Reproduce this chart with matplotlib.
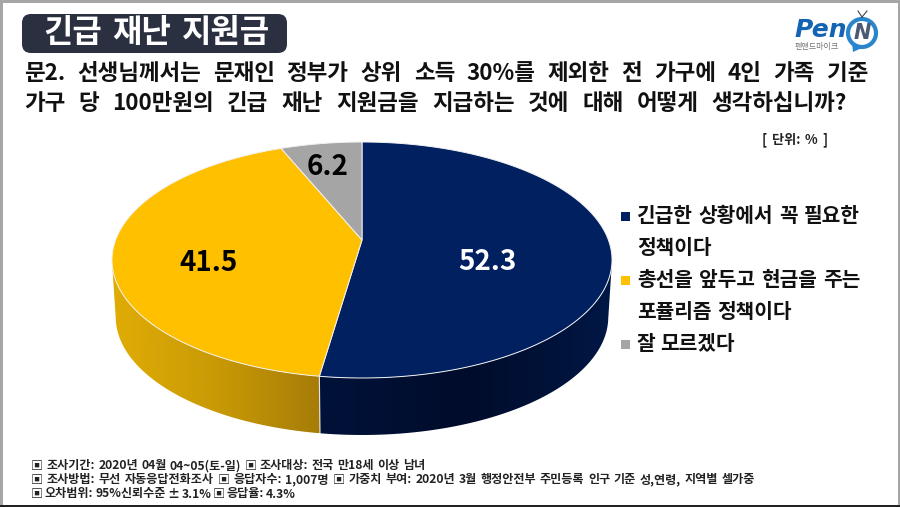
import numpy as np
import matplotlib
matplotlib.use('Agg')
import matplotlib.pyplot as plt
from matplotlib.patches import Polygon, Rectangle, FancyBboxPatch, Ellipse
from matplotlib.colors import LinearSegmentedColormap

plt.rcParams['font.family'] = ['Noto Sans CJK KR', 'DejaVu Sans']

# data
values = [52.3, 41.5, 6.2]
top_colors = ['#002060', '#ffc000', '#a5a5a5']
value_labels = ['52.3', '41.5', '6.2']
legend_lines = [['긴급한 상황에서 꼭 필요한', '정책이다'],
                ['총선을 앞두고 현금을 주는', '포퓰리즘 정책이다'],
                ['잘 모르겠다']]
legend_ends = [[860, 710], [860, 792], [735]]
title = '긴급 재난 지원금'
question = ['문2. 선생님께서는 문재인 정부가 상위 소득 30%를 제외한 전 가구에 4인 가족 기준',
            '가구 당 100만원의 긴급 재난 지원금을 지급하는 것에 대해 어떻게 생각하십니까?']
question_ends = [868, 847]
unit = '[ 단위: % ]'
footer = ['▣ 조사기간: 2020년 04월 04~05(토-일) ▣ 조사대상: 전국 만18세 이상 남녀',
          '▣ 조사방법: 무선 자동응답전화조사 ▣ 응답자수: 1,007명 ▣ 가중치 부여: 2020년 3월 행정안전부 주민등록 인구 기준 성,연령, 지역별 셀가중',
          '▣ 오차범위: 95%신뢰수준 ± 3.1% ▣ 응답율: 4.3%']
footer_ends = [425, 755, 296]

# pie projection (pixel space, tilted with some perspective)
cx, cy = 362, 240
a, b, k = 246.4, 114.6, 0.1695
depth = 57


def project(theta, shrink=1.0, dy=0):
    # theta is clockwise from 12 o'clock
    u = np.sin(theta)
    v = np.cos(theta)
    d = 1 + k * v
    return cx + shrink * a * u / d, cy + dy - b * v / d


fig = plt.figure(figsize=(9, 5.07), dpi=100)
ax = fig.add_axes([0, 0, 1, 1])
ax.set_xlim(0, 900)
ax.set_ylim(507, 0)
ax.axis('off')
renderer = fig.canvas.get_renderer()


def fit_text(x, y, s, x_end, **kw):
    # the slide has very wide word gaps, so place word by word up to x_end
    words = s.split(' ')
    arts = [ax.text(x, y, w, ha='left', va='center', **kw) for w in words]
    widths = [t.get_window_extent(renderer).width for t in arts]
    gap = (x_end - x - sum(widths)) / max(len(words) - 1, 1)
    pos = x
    for t, w in zip(arts, widths):
        t.set_x(pos)
        pos += w + gap


# slide frame
ax.add_patch(Rectangle((0, 0), 900, 2.5, color='#a6a6a6', lw=0))
ax.add_patch(Rectangle((0, 0), 2.5, 507, color='#a6a6a6', lw=0))
ax.add_patch(Rectangle((897.5, 0), 2.5, 507, color='#a6a6a6', lw=0))
ax.add_patch(Rectangle((0, 505), 900, 2, color='#222222', lw=0))

# side wall
edges = np.cumsum([0] + values) / 100 * 2 * np.pi
side_maps = [LinearSegmentedColormap.from_list('b', ['#00123a', '#000c2a', '#001745']),
             LinearSegmentedColormap.from_list('y', ['#e0ac05', '#c99a05', '#a67c08'])]
for i in [0, 1]:
    t = np.linspace(edges[i], edges[i + 1], 200)
    tx, ty = project(t)
    bx, by = project(t, 0.985, depth)
    keep = ty >= cy + 20
    pts = np.r_[np.c_[tx[keep], ty[keep]], np.c_[bx[keep], by[keep]][::-1]]
    x0, x1 = pts[:, 0].min(), pts[:, 0].max()
    y0, y1 = pts[:, 1].min(), pts[:, 1].max()
    im = ax.imshow(np.linspace(0, 1, 256).reshape(1, -1), cmap=side_maps[i],
                   extent=(x0, x1, y1, y0), aspect='auto', zorder=2)
    im.set_clip_path(Polygon(pts, closed=True, transform=ax.transData))
ax.set_xlim(0, 900)
ax.set_ylim(507, 0)

seam = edges[1]
sx, sy = project(seam)
sbx, sby = project(seam, 0.985, depth)
ax.plot([sx, sbx], [sy, sby], color='#e6e6e6', lw=0.8, zorder=3)

# top of pie
for i in range(3):
    t = np.linspace(edges[i], edges[i + 1], 200)
    tx, ty = project(t)
    ax.add_patch(Polygon(np.r_[[[cx, cy]], np.c_[tx, ty]], closed=True, fc=top_colors[i],
                         ec='#f2f2f2', lw=0.7, zorder=4))

# value labels
ax.text(487, 262, value_labels[0], color='white', fontsize=20, fontweight='bold',
        ha='center', va='center', zorder=5)
ax.text(209, 263, value_labels[1], color='black', fontsize=20, fontweight='bold',
        ha='center', va='center', zorder=5)
ax.text(328, 167, value_labels[2], color='black', fontsize=20, fontweight='bold',
        ha='center', va='center', zorder=5)

# legend
y = 216
for i, lines in enumerate(legend_lines):
    ax.add_patch(Rectangle((620.5, y - 4.5), 9, 9, color=top_colors[i], lw=0, zorder=5))
    for line, end in zip(lines, legend_ends[i]):
        fit_text(637, y, line, end, fontsize=14.6, fontweight='bold', color='#111111')
        y += 32

# title box
ax.add_patch(FancyBboxPatch((29, 21), 251, 25, boxstyle='round,pad=7,rounding_size=9',
                            fc='#2b3040', ec='none', mutation_aspect=1))
fit_text(43, 33, title, 270, color='white', fontsize=23, fontweight='bold')

# question
fit_text(24, 74, question[0], question_ends[0], fontsize=16.2, fontweight='bold', color='#111111')
fit_text(24, 104, question[1], question_ends[1], fontsize=16.2, fontweight='bold', color='#111111')
fit_text(762, 140, unit, 827, fontsize=9.5, fontweight='bold', color='#222222')

# footer
for line, fy, end in zip(footer, [466, 480, 494], footer_ends):
    fit_text(31, fy, line, end, fontsize=8.7, fontweight='bold', color='#222222')

# logo
ax.text(794, 30, 'Pen', fontsize=18, fontweight='bold', fontstyle='italic',
        family='DejaVu Sans', color='#1464b4', ha='left', va='center')
ax.add_patch(Ellipse((862, 33), 28, 28, fc='white', ec='#2a86cc', lw=3))
ax.add_patch(Polygon([[852, 43], [864, 47], [853, 52]], closed=True, fc='#2a86cc', ec='none'))
ax.text(862, 33, 'N', fontsize=15, fontweight='bold', fontstyle='italic',
        family='DejaVu Sans', color='#4a5a75', ha='center', va='center')
ax.plot([862, 858], [17, 11], color='#444444', lw=0.8)
ax.plot([862, 867], [17, 11], color='#444444', lw=0.8)
ax.text(795, 46, '펜앤드마이크', fontsize=5.8, color='#777777', ha='left', va='center')

fig.savefig('out.png', dpi=100)
